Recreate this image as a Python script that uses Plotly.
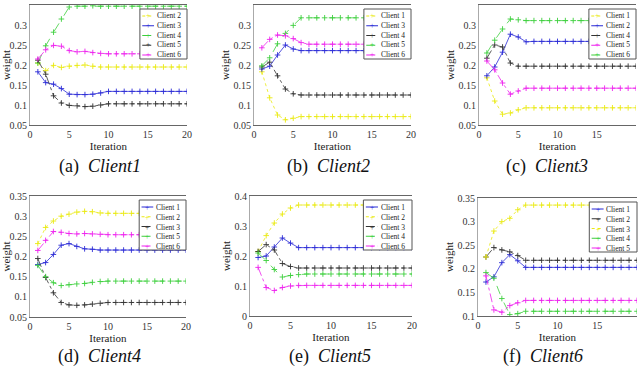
import plotly.graph_objects as go
from plotly.subplots import make_subplots

iterations = list(range(1, 21))

# panel (a) Client1
a_c2 = [0.205, 0.186, 0.199, 0.194, 0.197, 0.199, 0.200, 0.197, 0.195, 0.195, 0.195, 0.195, 0.195, 0.195, 0.195, 0.195, 0.195, 0.195, 0.195, 0.195]
a_c3 = [0.183, 0.156, 0.152, 0.141, 0.127, 0.126, 0.126, 0.127, 0.130, 0.134, 0.134, 0.134, 0.134, 0.134, 0.134, 0.134, 0.134, 0.134, 0.134, 0.134]
a_c4 = [0.205, 0.248, 0.282, 0.315, 0.345, 0.347, 0.347, 0.348, 0.347, 0.347, 0.347, 0.347, 0.347, 0.347, 0.347, 0.347, 0.347, 0.347, 0.347, 0.347]
a_c5 = [0.212, 0.177, 0.123, 0.105, 0.099, 0.098, 0.096, 0.097, 0.100, 0.103, 0.103, 0.103, 0.103, 0.103, 0.103, 0.103, 0.103, 0.103, 0.103, 0.103]
a_c6 = [0.215, 0.238, 0.249, 0.247, 0.236, 0.233, 0.234, 0.231, 0.229, 0.228, 0.228, 0.228, 0.228, 0.228, 0.228, 0.228, 0.228, 0.228, 0.228, 0.228]

# panel (b) Client2
b_c1 = [0.183, 0.118, 0.075, 0.063, 0.067, 0.071, 0.071, 0.071, 0.071, 0.071, 0.071, 0.071, 0.071, 0.071, 0.071, 0.071, 0.071, 0.071, 0.071, 0.071]
b_c3 = [0.190, 0.197, 0.225, 0.250, 0.240, 0.236, 0.236, 0.236, 0.236, 0.236, 0.236, 0.236, 0.236, 0.236, 0.236, 0.236, 0.236, 0.236, 0.236, 0.236]
b_c4 = [0.195, 0.207, 0.173, 0.140, 0.128, 0.125, 0.125, 0.125, 0.125, 0.125, 0.125, 0.125, 0.125, 0.125, 0.125, 0.125, 0.125, 0.125, 0.125, 0.125]
b_c5 = [0.198, 0.218, 0.253, 0.279, 0.299, 0.318, 0.318, 0.318, 0.318, 0.318, 0.318, 0.318, 0.318, 0.318, 0.318, 0.318, 0.318, 0.318, 0.318, 0.318]
b_c6 = [0.243, 0.264, 0.275, 0.273, 0.266, 0.256, 0.252, 0.252, 0.252, 0.252, 0.252, 0.252, 0.252, 0.252, 0.252, 0.252, 0.252, 0.252, 0.252, 0.252]

# panel (c) Client3
c_c1 = [0.168, 0.110, 0.077, 0.080, 0.088, 0.093, 0.093, 0.093, 0.093, 0.093, 0.093, 0.093, 0.093, 0.093, 0.093, 0.093, 0.093, 0.093, 0.093, 0.093]
c_c2 = [0.173, 0.195, 0.232, 0.277, 0.270, 0.258, 0.259, 0.259, 0.259, 0.259, 0.259, 0.259, 0.259, 0.259, 0.259, 0.259, 0.259, 0.259, 0.259, 0.259]
c_c4 = [0.217, 0.250, 0.245, 0.205, 0.197, 0.197, 0.197, 0.197, 0.197, 0.197, 0.197, 0.197, 0.197, 0.197, 0.197, 0.197, 0.197, 0.197, 0.197, 0.197]
c_c5 = [0.210, 0.188, 0.155, 0.127, 0.135, 0.142, 0.142, 0.142, 0.142, 0.142, 0.142, 0.142, 0.142, 0.142, 0.142, 0.142, 0.142, 0.142, 0.142, 0.142]
c_c6 = [0.230, 0.262, 0.290, 0.315, 0.313, 0.311, 0.311, 0.311, 0.311, 0.311, 0.311, 0.311, 0.311, 0.311, 0.311, 0.311, 0.311, 0.311, 0.311, 0.311]

# panel (d) Client4
d_c1 = [0.180, 0.185, 0.205, 0.228, 0.232, 0.225, 0.219, 0.218, 0.216, 0.216, 0.216, 0.216, 0.216, 0.216, 0.216, 0.216, 0.216, 0.216, 0.216, 0.216]
d_c2 = [0.232, 0.272, 0.288, 0.300, 0.305, 0.310, 0.312, 0.311, 0.308, 0.307, 0.307, 0.307, 0.307, 0.307, 0.307, 0.307, 0.307, 0.307, 0.307, 0.307]
d_c3 = [0.195, 0.148, 0.110, 0.086, 0.080, 0.079, 0.080, 0.082, 0.084, 0.086, 0.086, 0.086, 0.086, 0.086, 0.086, 0.086, 0.086, 0.086, 0.086, 0.086]
d_c5 = [0.178, 0.150, 0.135, 0.128, 0.130, 0.132, 0.133, 0.136, 0.138, 0.139, 0.139, 0.139, 0.139, 0.139, 0.139, 0.139, 0.139, 0.139, 0.139, 0.139]
d_c6 = [0.215, 0.240, 0.262, 0.260, 0.257, 0.256, 0.257, 0.256, 0.255, 0.254, 0.254, 0.254, 0.254, 0.254, 0.254, 0.254, 0.254, 0.254, 0.254, 0.254]

# panel (e) Client5
e_c1 = [0.195, 0.200, 0.230, 0.260, 0.243, 0.228, 0.228, 0.228, 0.228, 0.228, 0.228, 0.228, 0.228, 0.228, 0.228, 0.228, 0.228, 0.228, 0.228, 0.228]
e_c2 = [0.215, 0.268, 0.310, 0.340, 0.360, 0.370, 0.370, 0.370, 0.370, 0.370, 0.370, 0.370, 0.370, 0.370, 0.370, 0.370, 0.370, 0.370, 0.370, 0.370]
e_c3 = [0.215, 0.238, 0.220, 0.175, 0.165, 0.160, 0.160, 0.160, 0.160, 0.160, 0.160, 0.160, 0.160, 0.160, 0.160, 0.160, 0.160, 0.160, 0.160, 0.160]
e_c4 = [0.210, 0.185, 0.155, 0.130, 0.135, 0.138, 0.140, 0.140, 0.140, 0.140, 0.140, 0.140, 0.140, 0.140, 0.140, 0.140, 0.140, 0.140, 0.140, 0.140]
e_c6 = [0.162, 0.095, 0.085, 0.095, 0.100, 0.102, 0.102, 0.102, 0.102, 0.102, 0.102, 0.102, 0.102, 0.102, 0.102, 0.102, 0.102, 0.102, 0.102, 0.102]

# panel (f) Client6
f_c1 = [0.172, 0.183, 0.213, 0.230, 0.217, 0.203, 0.203, 0.203, 0.203, 0.203, 0.203, 0.203, 0.203, 0.203, 0.203, 0.203, 0.203, 0.203, 0.203, 0.203]
f_c2 = [0.225, 0.245, 0.240, 0.236, 0.228, 0.218, 0.218, 0.218, 0.218, 0.218, 0.218, 0.218, 0.218, 0.218, 0.218, 0.218, 0.218, 0.218, 0.218, 0.218]
f_c3 = [0.225, 0.280, 0.300, 0.307, 0.325, 0.335, 0.335, 0.335, 0.335, 0.335, 0.335, 0.335, 0.335, 0.335, 0.335, 0.335, 0.335, 0.335, 0.335, 0.335]
f_c4 = [0.192, 0.180, 0.137, 0.103, 0.105, 0.110, 0.110, 0.110, 0.110, 0.110, 0.110, 0.110, 0.110, 0.110, 0.110, 0.110, 0.110, 0.110, 0.110, 0.110]
f_c5 = [0.185, 0.113, 0.108, 0.122, 0.128, 0.133, 0.133, 0.133, 0.133, 0.133, 0.133, 0.133, 0.133, 0.133, 0.133, 0.133, 0.133, 0.133, 0.133, 0.133]

# line style per colour (MATLAB-ish)
styles = {
    "y": ("#eaea10", "dot"),
    "b": ("#2b2bd6", "solid"),
    "k": ("#333333", "dashdot"),
    "g": ("#3ccf3c", "dash"),
    "m": ("#ee22ee", "dashdot"),
}

panels = [
    ("(a)", "Client1", [0.05, 0.35], [("Client 2", a_c2, "y"), ("Client 3", a_c3, "b"), ("Client 4", a_c4, "g"), ("Client 5", a_c5, "k"), ("Client 6", a_c6, "m")]),
    ("(b)", "Client2", [0.05, 0.35], [("Client 1", b_c1, "y"), ("Client 3", b_c3, "b"), ("Client 4", b_c4, "k"), ("Client 5", b_c5, "g"), ("Client 6", b_c6, "m")]),
    ("(c)", "Client3", [0.05, 0.35], [("Client 1", c_c1, "y"), ("Client 2", c_c2, "b"), ("Client 4", c_c4, "k"), ("Client 5", c_c5, "m"), ("Client 6", c_c6, "g")]),
    ("(d)", "Client4", [0.05, 0.35], [("Client 1", d_c1, "b"), ("Client 2", d_c2, "y"), ("Client 3", d_c3, "k"), ("Client 5", d_c5, "g"), ("Client 6", d_c6, "m")]),
    ("(e)", "Client5", [0.0, 0.4], [("Client 1", e_c1, "b"), ("Client 2", e_c2, "y"), ("Client 3", e_c3, "k"), ("Client 4", e_c4, "g"), ("Client 6", e_c6, "m")]),
    ("(f)", "Client6", [0.1, 0.35], [("Client 1", f_c1, "b"), ("Client 2", f_c2, "k"), ("Client 3", f_c3, "y"), ("Client 4", f_c4, "g"), ("Client 5", f_c5, "m")]),
]

# pixel boxes of each plot area (left, right, top, bottom) in the 640x367 page
W, H = 640, 367
boxes = [
    (30, 187, 5, 125), (254, 411, 5, 125), (479, 636, 5, 125),
    (30, 186, 196, 317), (250, 412, 196, 316), (478, 637, 198, 316),
]
cap_pos = [(100, 167), (328, 167), (547, 167), (99, 356), (330, 356), (543, 356)]

font = "Liberation Serif"
leg_font = 7.5
row_px = leg_font * 1.3  # plotly line spacing of multi-line text
fig = make_subplots(rows=2, cols=3)

for i, (tag, name, yr, series) in enumerate(panels):
    row, col = i // 3 + 1, i % 3 + 1
    n = "" if i == 0 else str(i + 1)
    for label, vals, key in series:
        color, dash = styles[key]
        fig.add_trace(go.Scatter(
            x=iterations, y=vals, mode="lines+markers", name=label, showlegend=False,
            line=dict(color=color, width=0.8, dash=dash),
            marker=dict(symbol="cross-thin", size=4, line=dict(width=0.9, color=color)),
        ), row=row, col=col)

    l, r, t, b = boxes[i]
    ph = b - t
    fig.layout["xaxis" + n].domain = [l / W, r / W]
    fig.layout["yaxis" + n].domain = [1 - b / H, 1 - t / H]
    step = 0.1 if yr[1] - yr[0] > 0.35 else 0.05
    fig.update_xaxes(range=[0, 20], tickvals=[0, 5, 10, 15, 20], title=dict(text="Iteration", standoff=1, font=dict(size=11)),
                     row=row, col=col)
    fig.update_yaxes(range=yr, dtick=step, tick0=0, tickformat="~g", title=dict(text="weight", standoff=1, font=dict(size=11)),
                     row=row, col=col)

    # legend drawn inside each axes: box, line samples, markers, labels
    xr, yref = "x" + n + " domain", "y" + n + " domain"
    fig.add_shape(type="rect", xref=xr, yref=yref, x0=0.7, x1=1.0, y0=1 - 54 / ph, y1=1 - 4 / ph,
                  line=dict(color="#555555", width=1), fillcolor="white", layer="above")
    plus = []
    for j, (label, vals, key) in enumerate(series):
        color, dash = styles[key]
        yy = 1 - (11 + j * row_px) / ph
        fig.add_shape(type="line", xref=xr, yref=yref, x0=0.715, x1=0.79, y0=yy, y1=yy,
                      line=dict(color=color, width=1, dash=dash), layer="above")
        plus.append("<span style='color:%s'>+</span>" % color)
    ymid = 1 - (11 + 2 * row_px) / ph
    fig.add_annotation(xref=xr, yref=yref, x=0.7525, y=ymid, xanchor="center", yanchor="middle",
                       text="<br>".join(plus), showarrow=False, borderpad=0,
                       font=dict(size=leg_font, family=font))
    fig.add_annotation(xref=xr, yref=yref, x=0.80, y=ymid, xanchor="left", yanchor="middle", align="left",
                       text="<br>".join(s[0] for s in series), showarrow=False, borderpad=0,
                       font=dict(size=leg_font, color="#222222", family=font))

    cx, cy = cap_pos[i]
    fig.add_annotation(xref="paper", yref="paper", x=cx / W, y=1 - cy / H, xanchor="center", yanchor="middle",
                       text=tag + "  <i>" + name + "</i>", showarrow=False, borderpad=0,
                       font=dict(size=18, color="#111111", family=font))

fig.update_xaxes(showgrid=False, zeroline=False, showline=True, mirror=True, linecolor="#666666", linewidth=1,
                 ticks="", tickfont=dict(size=10, color="#333333"), automargin=False)
fig.update_yaxes(showgrid=False, zeroline=False, showline=True, linecolor="#aaaaaa", linewidth=1,
                 ticks="", tickfont=dict(size=10, color="#333333"), automargin=False)

fig.update_layout(
    width=W, height=H, margin=dict(l=0, r=0, t=0, b=0),
    plot_bgcolor="white", paper_bgcolor="white",
    font=dict(family=font, color="#222222"),
    showlegend=False,
)

# page body has a default 8px margin; drop it so the figure fills the window
fig.write_html("out.html", config={"displayModeBar": False},
               post_script="document.body.style.margin='0';")
